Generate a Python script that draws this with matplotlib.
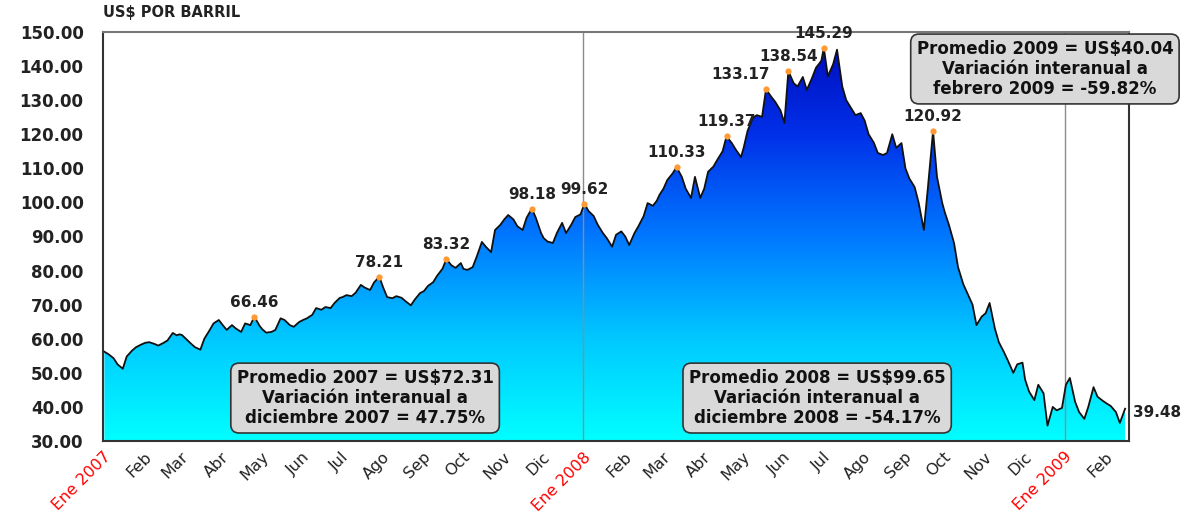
import numpy as np
import pandas as pd
import matplotlib
matplotlib.use('Agg')
import matplotlib.pyplot as plt
import matplotlib.dates as mdates
from matplotlib.colors import LinearSegmentedColormap

# Precio del crudo (US$ por barril): 9 lecturas por mes
# en los dias 2, 5, 9, 12, 16, 19, 23, 26, 30 (febrero: 28)
precios_2007 = [
    56.2, 55.5, 54.3, 52.5, 51.2, 54.8, 56.5, 57.5, 58.3,   # ene
    58.8, 59.0, 58.5, 58.0, 58.8, 59.5, 61.7, 61.0, 61.3,   # feb
    61.1, 60.0, 58.5, 57.5, 56.8, 60.0, 62.5, 64.5, 65.5,   # mar
    64.0, 62.6, 64.0, 63.0, 62.0, 64.5, 64.0, 66.46, 63.8,  # abr
    62.8, 61.8, 62.0, 62.6, 66.0, 65.5, 64.0, 63.5, 64.9,   # may
    65.5, 66.0, 67.0, 69.0, 68.5, 69.3, 69.0, 70.5, 72.0,   # jun
    72.2, 72.8, 72.5, 73.5, 75.8, 75.0, 74.3, 76.5, 78.21,  # jul
    75.0, 72.2, 71.9, 72.5, 72.0, 71.0, 69.8, 71.5, 73.4,   # ago
    74.0, 75.5, 76.6, 78.5, 80.5, 83.32, 81.5, 80.8, 82.2,  # sep
    80.5, 80.2, 81.0, 84.0, 88.4, 87.0, 85.4, 91.9, 93.4,   # oct
    95.0, 96.3, 95.0, 93.0, 91.9, 95.5, 98.18, 95.5, 91.0,  # nov
    89.5, 88.5, 88.1, 91.0, 94.0, 91.0, 93.5, 95.7, 96.5,   # dic
]
precios_2008 = [
    99.62, 97.5, 96.0, 93.5, 91.0, 89.5, 87.0, 90.5, 91.5,          # ene
    90.0, 87.5, 91.0, 93.0, 96.0, 99.8, 99.0, 100.5, 102.2,         # feb
    104.0, 106.6, 108.5, 110.33, 107.5, 104.0, 101.3, 107.5, 101.3, # mar
    104.0, 109.0, 110.5, 112.5, 115.0, 119.37, 117.4, 115.5, 113.3, # abr
    116.0, 121.0, 124.8, 125.6, 125.1, 133.17, 131.0, 129.5, 127.0, # may
    123.3, 138.54, 135.0, 134.0, 136.8, 133.0, 136.5, 139.5, 141.5, # jun
    145.29, 137.0, 140.5, 144.8, 134.0, 130.0, 127.5, 125.6, 126.2, # jul
    124.0, 120.0, 117.5, 114.5, 113.9, 114.5, 120.0, 116.0, 117.4,  # ago
    110.0, 107.0, 104.5, 100.0, 91.9, 104.0, 120.92, 107.5, 99.8,   # sep
    97.0, 93.5, 88.0, 81.0, 76.0, 73.4, 70.0, 64.0, 66.5,           # oct
    67.5, 70.5, 63.0, 59.0, 56.0, 53.5, 50.0, 52.5, 53.0,           # nov
    48.0, 44.5, 42.0, 46.5, 44.0, 34.5, 40.0, 39.0, 39.7,           # dic
]
precios_2009 = [
    46.5, 48.5, 41.5, 38.5, 36.5, 40.0, 45.8, 43.0, 41.8,   # ene
    41.0, 40.3, 38.5, 35.3, 39.48,                          # feb
]
dias_mes = [2, 5, 9, 12, 16, 19, 23, 26, 30]

meses = ['Ene 2007', 'Feb', 'Mar', 'Abr', 'May', 'Jun', 'Jul', 'Ago', 'Sep', 'Oct', 'Nov', 'Dic',
         'Ene 2008', 'Feb', 'Mar', 'Abr', 'May', 'Jun', 'Jul', 'Ago', 'Sep', 'Oct', 'Nov', 'Dic',
         'Ene 2009', 'Feb']

picos = [66.46, 78.21, 83.32, 98.18, 99.62, 110.33, 119.37, 133.17, 138.54, 145.29, 120.92]

notas = ['Promedio 2007 = US$72.31\nVariación interanual a\ndiciembre 2007 = 47.75%',
         'Promedio 2008 = US$99.65\nVariación interanual a\ndiciembre 2008 = -54.17%',
         'Promedio 2009 = US$40.04\nVariación interanual a\nfebrero 2009 = -59.82%']

precios = precios_2007 + precios_2008 + precios_2009

# fechas de cada lectura
fechas = []
inicios = pd.date_range('2007-01-01', '2009-02-01', freq='MS')
for inicio in inicios:
    for d in dias_mes:
        if inicio.month == 2 and d > 28:
            d = 28
        fechas.append(inicio + pd.Timedelta(days=d - 1))
fechas = fechas[:len(precios)]
x = mdates.date2num(fechas)

fig = plt.figure(figsize=(11.94, 5.14), dpi=100)
ax = fig.add_axes([0.0863, 0.142, 0.8593, 0.7958])

# relleno degradado recortado bajo la curva
cmap = LinearSegmentedColormap.from_list('crudo', ['#00FFFF', '#00C8FF', '#0078FF', '#0030E8', '#0008B8'])
grad = np.linspace(0, 1, 256).reshape(-1, 1)
im = ax.imshow(grad, extent=[x[0], x[-1], 30, 150], origin='lower', aspect='auto', cmap=cmap, zorder=1)
area = ax.fill_between(x, precios, 30, facecolor='none', edgecolor='none')
im.set_clip_path(area.get_paths()[0], transform=ax.transData)
ax.plot(x, precios, color='#111111', lw=1.3, zorder=3)

for anio in ['2008-01-01', '2009-01-01']:
    ax.axvline(mdates.date2num(pd.Timestamp(anio)), color='#8c8c8c', lw=1, zorder=2)

dx = {133.17: -18}
for v in picos:
    i = precios.index(v)
    ax.plot(x[i], v, 'o', color='#FF9933', ms=4.5, mec='none', zorder=5)
    ax.annotate('%.2f' % v, (x[i], v), xytext=(dx.get(v, 0), 5), textcoords='offset points',
                ha='center', va='bottom', fontsize=11, fontweight='bold', color='#222222', zorder=6)

ax.annotate('%.2f' % precios[-1], (x[-1], precios[-1]), xytext=(6, -3), textcoords='offset points',
            ha='left', va='center', fontsize=11, fontweight='bold', color='#222222', annotation_clip=False)

caja = dict(boxstyle='round,pad=0.35,rounding_size=0.5', fc='#D9D9D9', ec='#333333', lw=1.2)
for texto, (bx, by) in zip(notas, [(0.2554, 0.105), (0.696, 0.105), (0.918, 0.9095)]):
    ax.text(bx, by, texto, transform=ax.transAxes, ha='center', va='center', multialignment='center',
            fontsize=12, fontweight='bold', color='#111111', linespacing=1.15, bbox=caja,
            zorder=7, clip_on=False)

ax.set_ylim(30, 150)
ax.set_xlim(mdates.date2num(pd.Timestamp('2007-01-01')), mdates.date2num(pd.Timestamp('2009-02-19')))
ax.set_yticks(np.arange(30, 151, 10))
ax.set_yticklabels(['%.2f' % t for t in np.arange(30, 151, 10)], fontsize=12, fontweight='bold', color='#222222')

ax.set_xticks(mdates.date2num(inicios))
ax.set_xticklabels(meses, rotation=45, ha='right', rotation_mode='anchor', fontsize=11.5, color='#222222')
for lbl in ax.get_xticklabels():
    if lbl.get_text().startswith('Ene'):
        lbl.set_color('#FF0000')
ax.tick_params(axis='both', length=0)
ax.tick_params(axis='y', pad=14)
ax.tick_params(axis='x', pad=6)

for s in ax.spines.values():
    s.set_color('#333333')
    s.set_linewidth(1.5)
ax.spines['top'].set_color('#777777')

ax.text(0, 1.03, 'US$ POR BARRIL', transform=ax.transAxes, ha='left', va='bottom',
        fontsize=10.5, fontweight='bold', color='#222222')

fig.savefig('out.png', dpi=100)
